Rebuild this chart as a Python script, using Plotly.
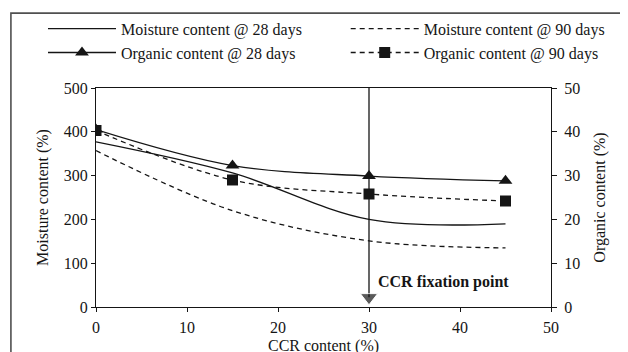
import plotly.graph_objects as go

ccr = [0, 15, 30, 45]
moist_28 = [377, 306, 200, 190]
moist_90 = [357, 220, 151, 135]
org_28 = [40.5, 32.3, 29.9, 28.8]
org_90 = [40.3, 29.0, 25.8, 24.2]
fix_x = 30
fix_y = [507, 22]
fix_label = "CCR fixation point"

FONT = "Liberation Serif"
INK = "#151515"
DASH = "5px,4px"
FRAME = "#505050"

fig = go.Figure()
fig.add_trace(go.Scatter(x=ccr, y=moist_28, mode="lines", name="Moisture content @ 28 days",
                         line=dict(color=INK, width=1.3, shape="spline"), legend="legend"))
fig.add_trace(go.Scatter(x=ccr, y=org_28, mode="lines+markers", name="Organic content @ 28 days",
                         line=dict(color=INK, width=1.3, shape="spline"),
                         marker=dict(symbol="triangle-up", size=12, color=INK), yaxis="y2", legend="legend"))
fig.add_trace(go.Scatter(x=ccr, y=moist_90, mode="lines", name="Moisture content @ 90 days",
                         line=dict(color=INK, width=1.3, shape="spline", dash=DASH), legend="legend2"))
fig.add_trace(go.Scatter(x=ccr, y=org_90, mode="lines+markers", name="Organic content @ 90 days",
                         line=dict(color=INK, width=1.3, shape="spline", dash=DASH),
                         marker=dict(symbol="square", size=11, color=INK), yaxis="y2", legend="legend2"))
fig.add_trace(go.Scatter(x=[fix_x, fix_x], y=fix_y, mode="lines+markers", showlegend=False,
                         line=dict(color=INK, width=1.3),
                         marker=dict(symbol=["circle", "triangle-down"], size=[0, 15], color=INK),
                         cliponaxis=False))

fig.add_annotation(x=fix_x + 0.8, y=56, text="<b>" + fix_label + "</b>", showarrow=False,
                   xanchor="left", yanchor="middle", font=dict(family=FONT, size=16, color=INK))

axis_font = dict(family=FONT, size=16, color=INK)
title_font = dict(family=FONT, size=16, color=INK)
leg_font = dict(family=FONT, size=16, color=INK)

fig.update_layout(
    width=628, height=352,
    margin=dict(l=88, r=85, t=80, b=53, autoexpand=False),
    paper_bgcolor="white", plot_bgcolor="white",
    font=dict(family=FONT, color=INK),
    xaxis=dict(range=[0, 50], dtick=10, showgrid=False, zeroline=False, showline=True, mirror=True,
               linecolor=INK, linewidth=1.3, ticks="outside", ticklen=4, tickcolor=INK,
               tickfont=axis_font, automargin=False, ticklabelstandoff=2,
               title=dict(text="CCR content (%)", font=title_font, standoff=4)),
    yaxis=dict(range=[0, 500], dtick=100, showgrid=False, zeroline=False, showline=True,
               linecolor=INK, linewidth=1.3, ticks="outside", ticklen=4, tickcolor=INK,
               tickfont=axis_font, automargin=False,
               title=dict(text="Moisture content (%)", font=title_font, standoff=11)),
    yaxis2=dict(range=[0, 50], dtick=10, overlaying="y", side="right", showgrid=False, zeroline=False,
                showline=True, linecolor=INK, linewidth=1.3, ticks="outside", ticklen=5, tickcolor=INK,
                tickfont=axis_font, automargin=False, ticklabelstandoff=4,
                title=dict(text="Organic content (%)", font=title_font, standoff=14)),
    legend=dict(x=-0.1165, y=1.348, xanchor="left", yanchor="top", orientation="v",
                font=leg_font, itemwidth=68, tracegroupgap=4, bgcolor="rgba(0,0,0,0)"),
    legend2=dict(x=0.5488, y=1.348, xanchor="left", yanchor="top", orientation="v",
                 font=leg_font, itemwidth=68, tracegroupgap=4, bgcolor="rgba(0,0,0,0)"),
    shapes=[
        dict(type="rect", xref="paper", yref="paper", x0=-0.187, x1=1.3, y0=-0.4, y1=1.342,
             line=dict(color=FRAME, width=1.6), fillcolor="rgba(0,0,0,0)", layer="below"),
    ],
)

fig.write_html("out.html", config={"displayModeBar": False})
